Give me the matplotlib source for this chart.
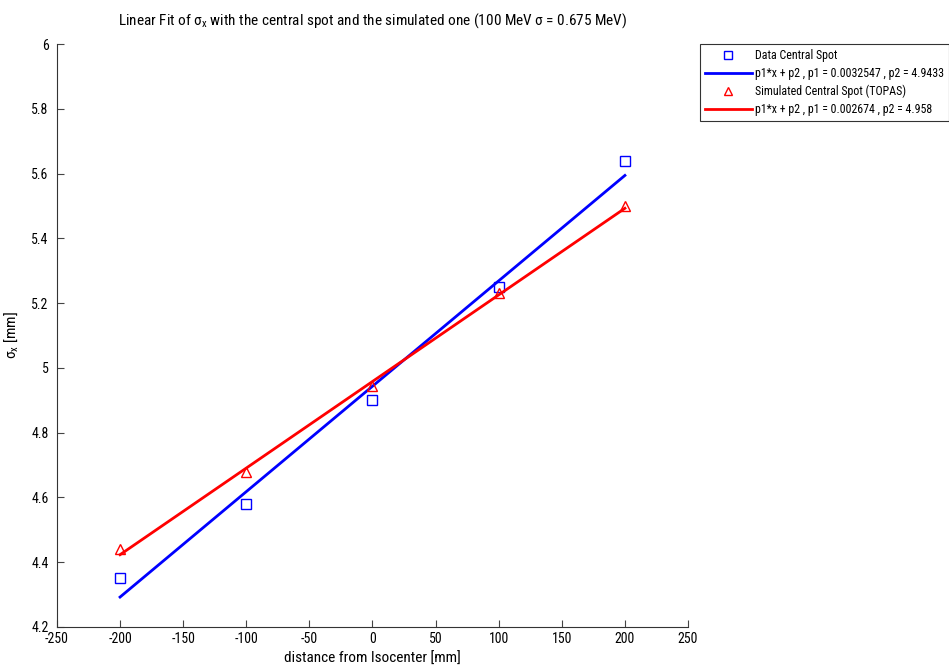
import numpy as np
import matplotlib
matplotlib.use('Agg')
import matplotlib.pyplot as plt

plt.rcParams['font.family'] = ['Roboto Condensed', 'DejaVu Sans']
plt.rcParams['mathtext.default'] = 'regular'
plt.rcParams['axes.unicode_minus'] = False

# data
dist = [-200, -100, 0, 100, 200]
sigma_data = [4.35, 4.58, 4.90, 5.25, 5.64]
sigma_topas = [4.44, 4.68, 4.945, 5.23, 5.50]

# fit parameters shown in the legend
fit_data = [0.0032547, 4.9433]
fit_topas = [0.002674, 4.958]

x_fit = np.array([dist[0], dist[-1]])

fig = plt.figure(figsize=(9.49, 6.67), dpi=100)
ax = fig.add_axes([0.060, 0.060, 0.665, 0.874])

ax.plot(dist, sigma_data, 's', mfc='none', mec='blue', ms=7, mew=1,
        label='Data Central Spot')
ax.plot(x_fit, np.polyval(fit_data, x_fit), '-', color='blue', lw=2,
        label='p1*x + p2 , p1 = 0.0032547 , p2 = 4.9433')
ax.plot(dist, sigma_topas, '^', mfc='none', mec='red', ms=7, mew=1,
        label='Simulated Central Spot (TOPAS)')
ax.plot(x_fit, np.polyval(fit_topas, x_fit), '-', color='red', lw=2,
        label='p1*x + p2 , p1 = 0.002674 , p2 = 4.958')

ax.set_xlim(-250, 250)
ax.set_ylim(4.2, 6)
ax.set_xticks(np.arange(-250, 251, 50))
ax.set_yticks(np.arange(4.2, 6.01, 0.2))
ax.set_yticklabels(['4.2', '4.4', '4.6', '4.8', '5', '5.2', '5.4', '5.6', '5.8', '6'])
ax.tick_params(direction='in', length=5, labelsize=10, width=0.8, color='#444444')
ax.tick_params(axis='y', pad=6)
ax.spines['top'].set_visible(False)
ax.spines['right'].set_visible(False)
ax.spines['left'].set_color('#333333')
ax.spines['bottom'].set_color('#333333')

ax.set_title('Linear Fit of σ$_x$ with the central spot and the simulated one (100 MeV σ = 0.675 MeV)',
             fontsize=11, pad=14)
ax.set_xlabel('distance from Isocenter [mm]', fontsize=11, labelpad=4)
ax.set_ylabel('σ$_x$ [mm]', fontsize=11, labelpad=8)

leg = fig.legend(loc='upper left', bbox_to_anchor=(0.738, 0.934), fontsize=8.6,
                 frameon=True, fancybox=False, edgecolor='black', handlelength=3.9,
                 borderpad=0.4, labelspacing=0.42, handletextpad=0.3, borderaxespad=0,
                 markerscale=0.85)
leg.get_frame().set_linewidth(0.8)

fig.savefig('out.png', dpi=100)
